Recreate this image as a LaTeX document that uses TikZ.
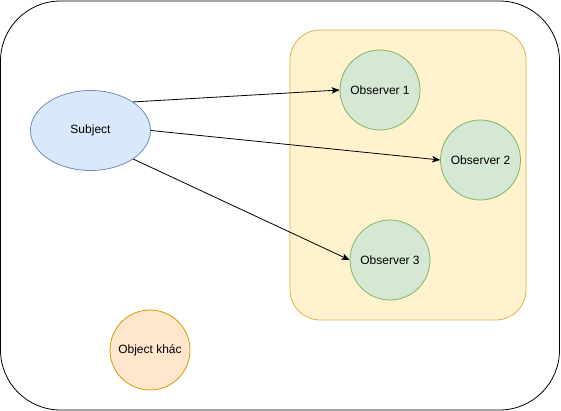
\documentclass[tikz,border=0pt]{standalone}
\usepackage{fontspec}
\setmainfont{Liberation Sans}
\usetikzlibrary{arrows.meta,
                shapes.geometric}

\definecolor{subjfill}{HTML}{DAE8FC}
\definecolor{subjline}{HTML}{6C8EBF}
\definecolor{obsfill}{HTML}{D5E8D4}
\definecolor{obsline}{HTML}{82B366}
\definecolor{grpfill}{HTML}{FFF2CC}
\definecolor{grpline}{HTML}{D6B656}
\definecolor{otherfill}{HTML}{FFE6CC}
\definecolor{otherline}{HTML}{D79B00}

\begin{document}
\begin{tikzpicture}[
    x=1pt, y=-1pt,
    font=\fontsize{12}{14}\selectfont,
        base/.style = {draw, line width=0.8pt, inner sep=0pt, align=center},
        frame/.style = {base, rectangle, rounded corners=60pt, draw=black,
                    minimum width=559pt, minimum height=409pt},
        group/.style = {base, rectangle, rounded corners=30pt,
                    draw=grpline, fill=grpfill,
                    minimum width=236pt, minimum height=290pt},
        subject/.style = {base, ellipse, draw=subjline, fill=subjfill,
                    minimum width=120pt, minimum height=80pt},
        observer/.style = {base, circle, draw=obsline, fill=obsfill,
                    minimum size=80pt},
        other/.style = {base, circle, draw=otherline, fill=otherfill,
                    minimum size=80pt},
        notify/.style = {draw, line width=0.8pt,
                    -{Stealth[length=8pt,width=6.5pt,inset=2pt]}}
        ]

    \useasboundingbox (0,0) rectangle (561,411);

    % containers
    \node[frame] (frame) at (280,205.5) {};
    \node[group] (observers) at (408,175) {};

    % nodes
    \node[subject] (subj) at (90.5,130.5) {Subject};
    \node[observer] (obs-1) at (380,90) {Observer 1};
    \node[observer] (obs-2) at (480.5,160) {Observer 2};
    \node[observer] (obs-3) at (390,260) {Observer 3};
    \node[other] (other) at (150,350) {Object khác};

    % notifications
    \path
        (subj.north east)   edge[notify]    (obs-1.west)
        (subj.east)         edge[notify]    (obs-2.west)
        (subj.south east)   edge[notify]    (obs-3.west);

\end{tikzpicture}
\end{document}
